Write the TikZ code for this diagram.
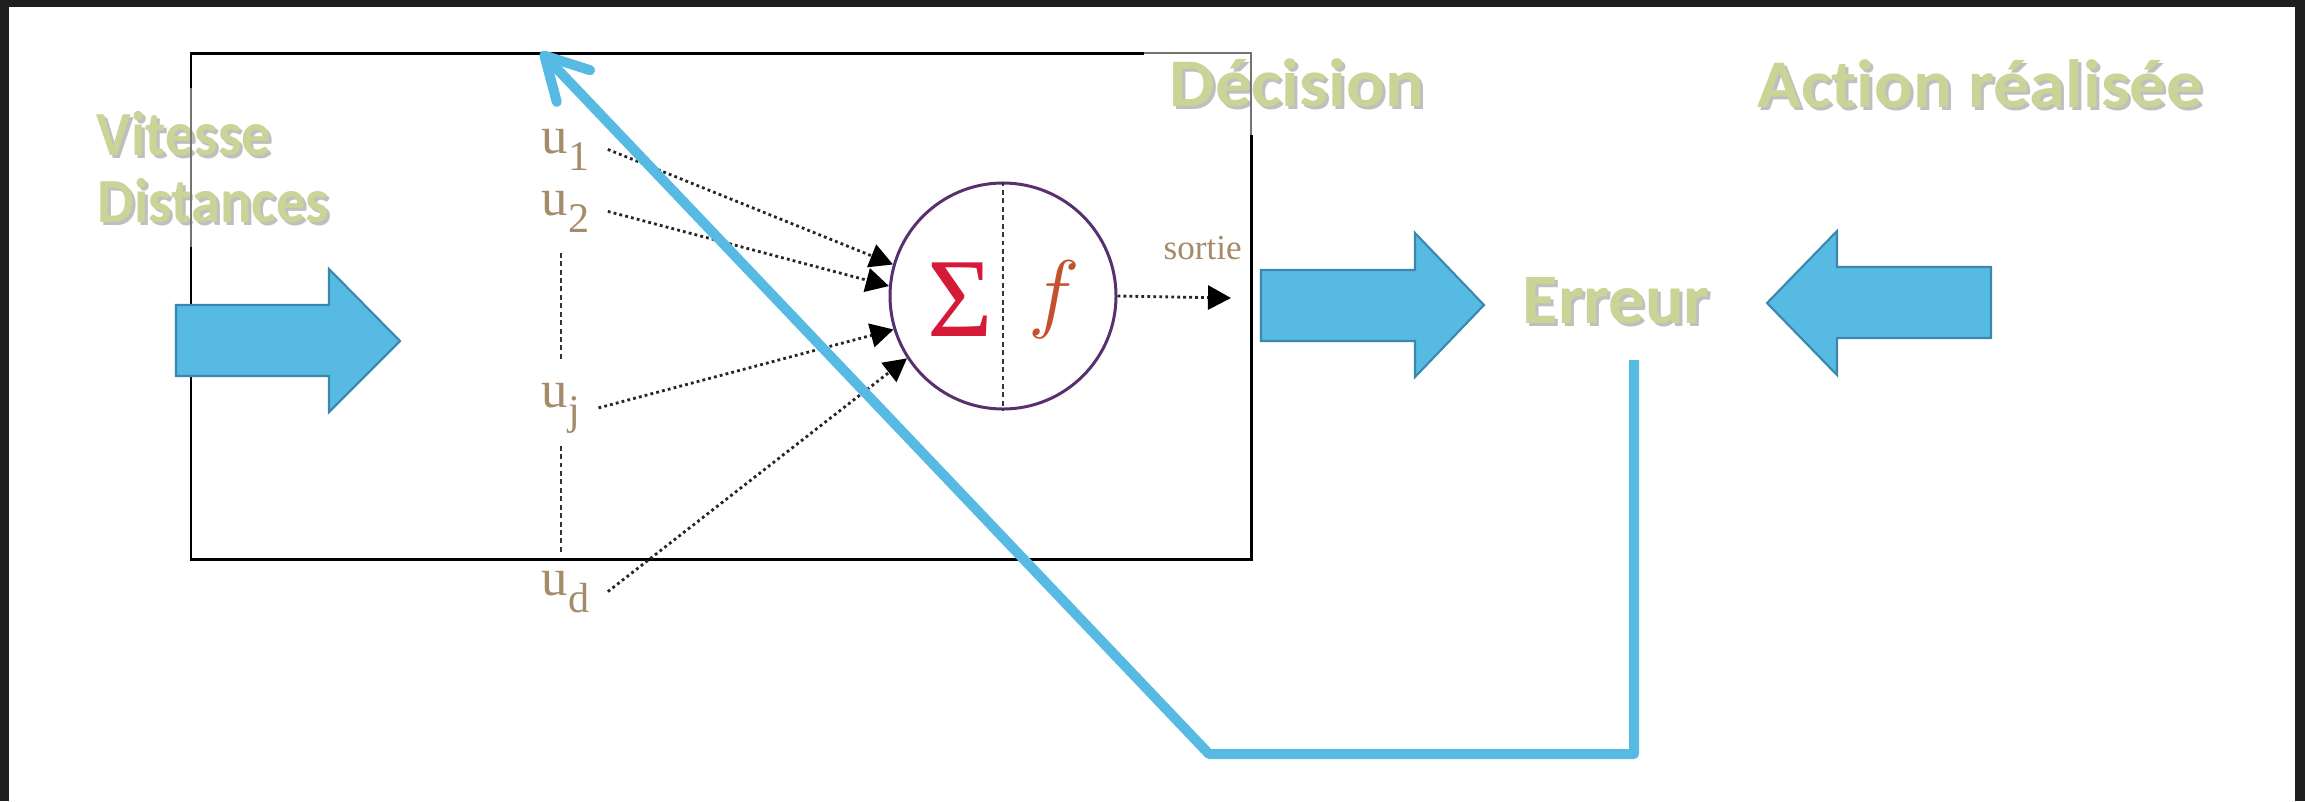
\documentclass[tikz,border=0pt]{standalone}
\usepackage{fontspec}
\usetikzlibrary{arrows.meta,calc}
\newfontfamily\labfont{Carlito}[Ligatures=NoCommon]
\newfontfamily\serifu{Liberation Serif}

\definecolor{framegray}{HTML}{1E1E1E}
\definecolor{labgreen}{HTML}{C9D497}
\definecolor{labshadow}{HTML}{8C8C8C}
\definecolor{blockblue}{HTML}{56BAE3}
\definecolor{blockedge}{HTML}{3A88AE}
\definecolor{inktan}{HTML}{A58B6A}
\definecolor{neurpurple}{HTML}{56306F}
\definecolor{sigred}{HTML}{D51937}
\definecolor{forange}{HTML}{C4502C}

\tikzset{
  lbl/.style={inner sep=0pt, anchor=base west, text=labgreen},
  lblsh/.style={inner sep=0pt, anchor=base west, text=labshadow, opacity=0.55},
  insize/.style={font=\labfont\bfseries\fontsize{17.9pt}{18pt}\selectfont},
  outsize/.style={font=\labfont\bfseries\fontsize{19.4pt}{20pt}\selectfont},
  errsize/.style={font=\labfont\bfseries\fontsize{20.2pt}{21pt}\selectfont},
  uvar/.style={inner sep=0pt, anchor=base west, text=inktan, font=\serifu\fontsize{15pt}{15pt}\selectfont},
  boxline/.style={line width=0.85pt, black},
  boxfaded/.style={line width=0.6pt, black!55},
  block/.style={fill=blockblue, draw=blockedge, line width=0.6pt, line join=miter},
  wire/.style={dash pattern=on 0.8pt off 0.9pt, line width=0.8pt, black!85,
    -{Triangle[length=2.3mm,width=2.4mm,color=black,fill=black]}},
  guide/.style={dash pattern=on 1.4pt off 1pt, line width=0.55pt, black!80},
  feedback/.style={blockblue, line width=2.85pt, line join=round,
    -{Straight Barb[length=4.2mm,width=4.6mm,round]}}
}

% label with a soft drop shadow
\newcommand\shadowlabel[4]{%
  \node[lblsh,#2] (#1-sh) at ($#3+(3,3)$) {#4};
  \node[lbl,#2] (#1) at #3 {#4};}
\newcommand\usub[1]{\raisebox{-1.7mm}{\fontsize{12pt}{12pt}\selectfont #1}}

\begin{document}
\begin{tikzpicture}[x=0.1mm,y=-0.1mm]
% frame
\fill[framegray] (0,0) rectangle (2305,801);
\fill[white] (9,7) rectangle (2295,801);
\useasboundingbox (0,0) rectangle (2305,801);

% Labels
\shadowlabel{vit}{insize}{(96,155)}{\scalebox{0.93}[1]{Vitesse}}
\shadowlabel{dist}{insize}{(97,222)}{\scalebox{0.93}[1]{Distances}}
\shadowlabel{dec}{outsize}{(1169,106)}{\scalebox{1.06}[1]{Décision}}
\shadowlabel{act}{outsize}{(1757,107)}{\scalebox{1.06}[1]{Action réalisée}}
\shadowlabel{err}{errsize}{(1522,323)}{\scalebox{1.02}[1]{Erreur}}

% Neuron box
\draw[boxline] (191,247) -- (191,559) -- (1251,559) -- (1251,135);
\draw[boxline] (1144,53) -- (191,53) -- (191,88);
\draw[boxfaded] (191,88) -- (191,247);
\draw[boxfaded] (1144,53) -- (1251,53) -- (1251,135);

% Block arrows
\draw[block] (176,305) -- (329,305) -- (329,269) -- (400,341) -- (329,412) -- (329,376) -- (176,376) -- cycle;
\draw[block] (1261,270) -- (1415,270) -- (1415,233) -- (1484,305) -- (1415,377) -- (1415,341) -- (1261,341) -- cycle;
\draw[block] (1991,267) -- (1837,267) -- (1837,231) -- (1767,303) -- (1837,375) -- (1837,338) -- (1991,338) -- cycle;

% Inputs
\node[uvar] (u1) at (541,153) {u\usub{1}};
\node[uvar] (u2) at (541,215) {u\usub{2}};
\node[uvar] (uj) at (541,407) {u\usub{j}};
\node[uvar] (ud) at (541,595) {u\usub{d}};
\draw[guide, shorten <=2mm, shorten >=2mm] (uj.north |- u2.south) -- (uj.north);
\draw[guide, shorten <=1.2mm, shorten >=1.5mm] (uj.south) -- (uj.south |- ud.north);

% Neuron
\node[draw=neurpurple, line width=0.85pt, circle, minimum size=22.6mm, inner sep=0pt] (neur) at (1003,296) {};
\draw[guide] (neur.north) -- (neur.south);
\node[text=sigred, font=\serifu\fontsize{32pt}{32pt}\selectfont, inner sep=0pt] (sig) at (960,300) {Σ};
\node[text=forange, inner sep=0pt] (fn) at (1054,300) {\fontsize{24pt}{24pt}\selectfont$f$};

\draw[wire] ([xshift=1.8mm]u1.east) -- (neur.164);
\draw[wire] ([xshift=1.8mm]u2.east) -- (neur.175);
\draw[wire] ([xshift=1.8mm]uj.east) -- (neur.197);
\draw[wire] ([xshift=1.8mm]ud.east) -- (neur.213);

% Output
\node[uvar, font=\serifu\fontsize{10pt}{10pt}\selectfont] (sortie) at (1163,259) {sortie};
\coordinate (outtip) at (1231,298);
\draw[wire] (neur.east) -- (outtip);

% Error feedback
\coordinate (fbstart) at (1634,360);
\coordinate (fbbend) at (1209,754);
\coordinate (fbtip) at (541,52);
\draw[feedback] (fbstart) |- (fbbend) -- (fbtip);
\end{tikzpicture}
\end{document}
